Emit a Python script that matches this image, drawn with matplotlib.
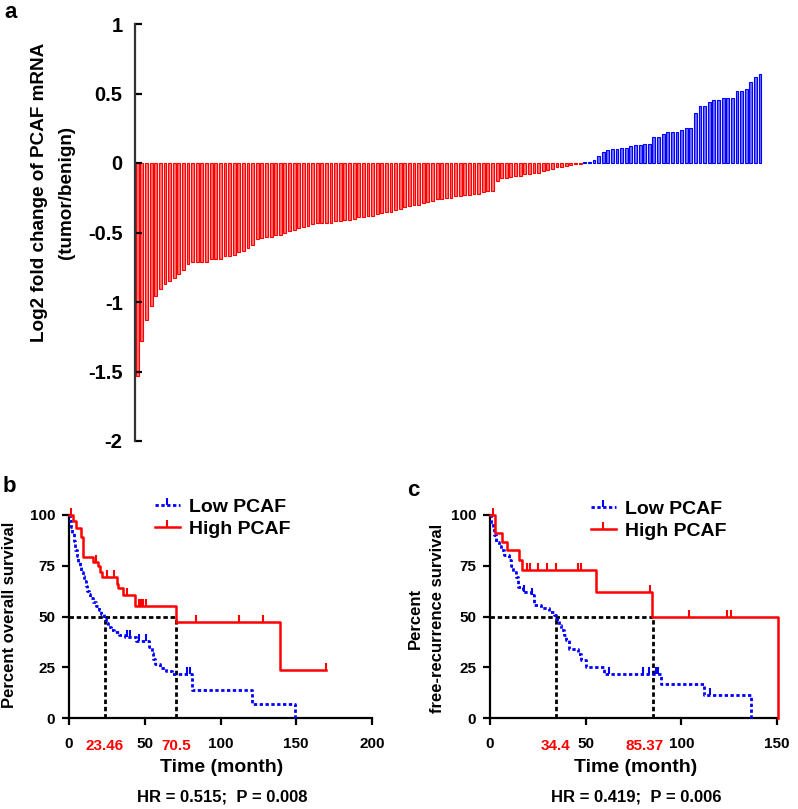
import numpy as np
import matplotlib
matplotlib.use("Agg")
from matplotlib import pyplot as plt
from matplotlib.lines import Line2D
from matplotlib.transforms import ScaledTranslation

plt.rcParams['font.family'] = ['Liberation Sans', 'DejaVu Sans']
plt.rcParams['font.weight'] = 'bold'

W, H = 798, 809

# panel a: log2 fold change per sample, sorted
red_vals = [-1.53, -1.28, -1.13, -1.03, -0.96, -0.91, -0.87, -0.85, -0.83, -0.80,
            -0.77, -0.73, -0.71, -0.71, -0.71, -0.71, -0.69, -0.69, -0.69, -0.67,
            -0.67, -0.66, -0.64, -0.63, -0.61, -0.59, -0.55, -0.54, -0.53, -0.53,
            -0.52, -0.52, -0.50, -0.49, -0.48, -0.47, -0.46, -0.45, -0.44, -0.43,
            -0.43, -0.43, -0.43, -0.42, -0.42, -0.41, -0.41, -0.40, -0.39, -0.39,
            -0.38, -0.38, -0.37, -0.36, -0.35, -0.35, -0.34, -0.33, -0.32, -0.31,
            -0.30, -0.30, -0.29, -0.28, -0.27, -0.26, -0.26, -0.25, -0.25, -0.24,
            -0.24, -0.23, -0.23, -0.22, -0.22, -0.21, -0.20, -0.20, -0.13, -0.11,
            -0.11, -0.10, -0.09, -0.09, -0.08, -0.08, -0.07, -0.07, -0.06, -0.05,
            -0.04, -0.03, -0.03, -0.02, -0.015, -0.01, -0.005]
blue_vals = [0.005, 0.01, 0.02, 0.05, 0.08, 0.09, 0.10, 0.10, 0.11, 0.11,
             0.12, 0.13, 0.13, 0.14, 0.14, 0.19, 0.19, 0.21, 0.22, 0.22,
             0.22, 0.24, 0.25, 0.25, 0.36, 0.41, 0.41, 0.44, 0.45, 0.45,
             0.47, 0.47, 0.47, 0.52, 0.52, 0.53, 0.58, 0.62, 0.64]
a_ticks = [1, 0.5, 0, -0.5, -1, -1.5, -2]
a_ticklabels = ['1', '0.5', '0', '-0.5', '-1', '-1.5', '-2']

# panel b: overall survival (time in months, percent after each step)
b_low_t = [0, 0.5, 1, 2, 3, 4, 5, 6, 7, 8, 9, 10, 11, 12, 13, 14, 16, 18, 19.5, 21,
           23, 24.5, 26, 28, 30, 33, 37, 44, 53, 54.5, 55.5, 57, 60, 64, 68, 81, 121, 149]
b_low_s = [100, 97, 94, 91, 87, 83, 80, 77, 74.5, 72, 70, 67.5, 65, 62.5, 61, 59, 57, 55, 53, 51,
           49, 47, 45, 43.5, 42.5, 41, 40, 38, 35, 32, 29, 26.5, 24.5, 23, 21.5, 14, 7, 0]
b_low_cens = [38, 40, 46, 51, 78, 80]
b_high_t = [0, 2.9, 4.5, 8, 9, 15.6, 19.4, 20.5, 22, 31.5, 32.6, 35.9, 43.6, 70.7, 139.4, 169.8]
b_high_s = [100, 97, 93.4, 89, 79.4, 77, 75, 72, 69.6, 66, 64, 60.5, 55.3, 47.4, 23.5, 23.5]
b_high_cens = [1.5, 18, 25, 30, 38, 46, 47.5, 49, 50.5, 84, 112, 128, 169.8]
b_medians = [23.46, 70.5]
b_median_labels = ['23.46', '70.5']

# panel c: free-recurrence survival
c_low_t = [0, 0.7, 1.4, 2.2, 3.1, 4.5, 5.7, 7.5, 10.1, 11.2, 11.8, 13.6, 14.5, 17.1, 21.4, 23.2,
           26.7, 31, 33.6, 34.4, 36, 37.1, 38.5, 39.7, 41.5, 45.8, 47.6, 50.2, 59.8, 89.4, 112, 136.4]
c_low_s = [100, 96.5, 93.4, 90, 86.8, 84.5, 82.7, 80.3, 77.8, 75, 72, 69.6, 64.6, 62.2, 60.5, 55.6,
           54, 52.3, 50.7, 49, 46, 43.3, 41, 38.3, 34.2, 31.7, 28.5, 25.2, 21.9, 16.9, 11.2, 0]
c_low_cens = [18, 22, 62, 80, 83, 87, 88, 115]
c_high_t = [0, 2.8, 6.3, 8.9, 15.3, 16.7, 55.4, 84.7, 150.3]
c_high_s = [100, 91, 86.8, 82.7, 77.8, 72.9, 62.2, 50, 0]
c_high_cens = [1.4, 19.5, 21, 25, 30, 34.5, 46, 47.5, 83.5, 104, 124, 126]
c_medians = [34.4, 85.37]
c_median_labels = ['34.4', '85.37']


def box(l, t, r, b):
    return [l / W, 1 - b / H, (r - l) / W, (b - t) / H]


def fxy(x, y):
    return x / W, 1 - y / H


fig = plt.figure(figsize=(W / 100, H / 100), dpi=100)

# ---- panel a
ax = fig.add_axes(box(135, 24, 766, 441))
xr = np.arange(len(red_vals))
xb = np.arange(len(red_vals), len(red_vals) + len(blue_vals))
ax.bar(xr, red_vals, width=0.62, color='#ff7070', edgecolor='red', linewidth=0.8)
ax.bar(xb, blue_vals, width=0.62, color='#7070ff', edgecolor='blue', linewidth=0.8)
ax.set_xlim(-0.5, len(red_vals) + len(blue_vals) + 0.3)
ax.set_ylim(-2, 1)
for s in ['top', 'right', 'bottom']:
    ax.spines[s].set_visible(False)
ax.spines['left'].set_linewidth(1.6)
ax.spines['left'].set_color('#333333')
ax.set_xticks([])
ax.set_yticks(a_ticks)
ax.set_yticklabels(a_ticklabels, fontsize=14.5, fontweight='bold')
ax.tick_params(axis='y', direction='in', length=5, width=1.6, pad=9)
fig.text(*fxy(40, 192), "Log2 fold change of PCAF mRNA", rotation=90,
         ha='center', va='center', fontsize=13.6, fontweight='bold')
fig.text(*fxy(67, 192), "(tumor/benign)", rotation=90,
         ha='center', va='center', fontsize=13.6, fontweight='bold')
fig.text(*fxy(4, 12), "a", fontsize=16, fontweight='bold', ha='left', va='center')


def km_panel(ax, low_t, low_s, low_cens, high_t, high_s, high_cens, medians, med_labels,
             med_shift, xmax, xstep):
    blue_ls = (0, (1.2, 0.9))
    ax.step(low_t, low_s, where='post', color='blue', lw=2, linestyle=blue_ls, clip_on=False, zorder=3)
    ax.step(high_t, high_s, where='post', color='red', lw=1.8, clip_on=False, zorder=3)
    idx = np.searchsorted(low_t, low_cens, side='right') - 1
    ax.plot(low_cens, np.array(low_s)[idx], linestyle='none', marker=2, ms=5, mew=1.5,
            color='blue', clip_on=False, zorder=4)
    idx = np.searchsorted(high_t, high_cens, side='right') - 1
    ax.plot(high_cens, np.array(high_s)[idx], linestyle='none', marker=2, ms=5, mew=1.5,
            color='red', clip_on=False, zorder=4)
    # median lines
    dash = (0, (1.6, 1.0))
    ax.plot([0, medians[1]], [50, 50], color='black', lw=2, linestyle=dash, zorder=2)
    for m in medians:
        ax.plot([m, m], [0, 50], color='black', lw=2, linestyle=dash, zorder=2)
    ax.set_xlim(0, xmax)
    ax.set_ylim(0, 100)
    for s in ['top', 'right']:
        ax.spines[s].set_visible(False)
    for s in ['left', 'bottom']:
        ax.spines[s].set_linewidth(1.6)
    major = list(np.arange(0, xmax + 1, xstep))
    ax.set_xticks(major)
    ax.set_xticklabels(['%d' % v for v in major], fontsize=11, fontweight='bold')
    ax.set_yticks([0, 25, 50, 75, 100])
    ax.set_yticklabels(['0', '25', '50', '75', '100'], fontsize=11, fontweight='bold')
    ax.tick_params(direction='out', length=5, width=1.6, pad=5)
    ax.tick_params(axis='x', pad=9)
    # red median labels on the time axis
    for m, lab, sh in zip(medians, med_labels, med_shift):
        tr = ax.get_xaxis_transform() + ScaledTranslation(sh / 72, -20 / 72, fig.dpi_scale_trans)
        ax.text(m, 0, lab, transform=tr, color='red', fontsize=11, fontweight='bold',
                ha='center', va='center')
    handles = [Line2D([], [], color='blue', lw=2, linestyle=blue_ls, marker=2, ms=5, mew=1.5),
               Line2D([], [], color='red', lw=1.8, marker=2, ms=5, mew=1.5)]
    return handles


leg_kw = dict(loc='upper left', frameon=False, handlelength=1.3, handletextpad=0.45,
              labelspacing=0.25, numpoints=1, prop={'weight': 'bold', 'size': 14})

# ---- panel b
axb = fig.add_axes(box(69, 515, 372, 718))
hb = km_panel(axb, b_low_t, b_low_s, b_low_cens, b_high_t, b_high_s, b_high_cens,
              b_medians, b_median_labels, [0, 0], 200, 50)
axb.legend(hb, ['Low PCAF', 'High PCAF'], bbox_to_anchor=(0.225, 1.17), **leg_kw)
fig.text(*fxy(10, 615), "Percent overall survival", rotation=90, ha='center', va='center',
         fontsize=12, fontweight='bold')
fig.text(*fxy(222, 768), "Time (month)", ha='center', va='center', fontsize=14, fontweight='bold')
fig.text(*fxy(222, 797), "HR = 0.515;  P = 0.008", ha='center', va='center',
         fontsize=12, fontweight='bold')
fig.text(*fxy(3, 487), "b", fontsize=16, fontweight='bold', ha='left', va='center')

# ---- panel c
axc = fig.add_axes(box(490, 515, 777, 718))
hc = km_panel(axc, c_low_t, c_low_s, c_low_cens, c_high_t, c_high_s, c_high_cens,
              c_medians, c_median_labels, [0, -6], 150, 50)
axc.legend(hc, ['Low PCAF', 'High PCAF'], bbox_to_anchor=(0.29, 1.16), **leg_kw)
fig.text(*fxy(415, 618), "Percent", rotation=90, ha='center', va='center',
         fontsize=12, fontweight='bold')
fig.text(*fxy(437, 618), "free-recurrence survival", rotation=90, ha='center', va='center',
         fontsize=12, fontweight='bold')
fig.text(*fxy(636, 768), "Time (month)", ha='center', va='center', fontsize=14, fontweight='bold')
fig.text(*fxy(636, 797), "HR = 0.419;  P = 0.006", ha='center', va='center',
         fontsize=12, fontweight='bold')
fig.text(*fxy(407, 490), "c", fontsize=16, fontweight='bold', ha='left', va='center')

fig.savefig("out.png", dpi=100)
